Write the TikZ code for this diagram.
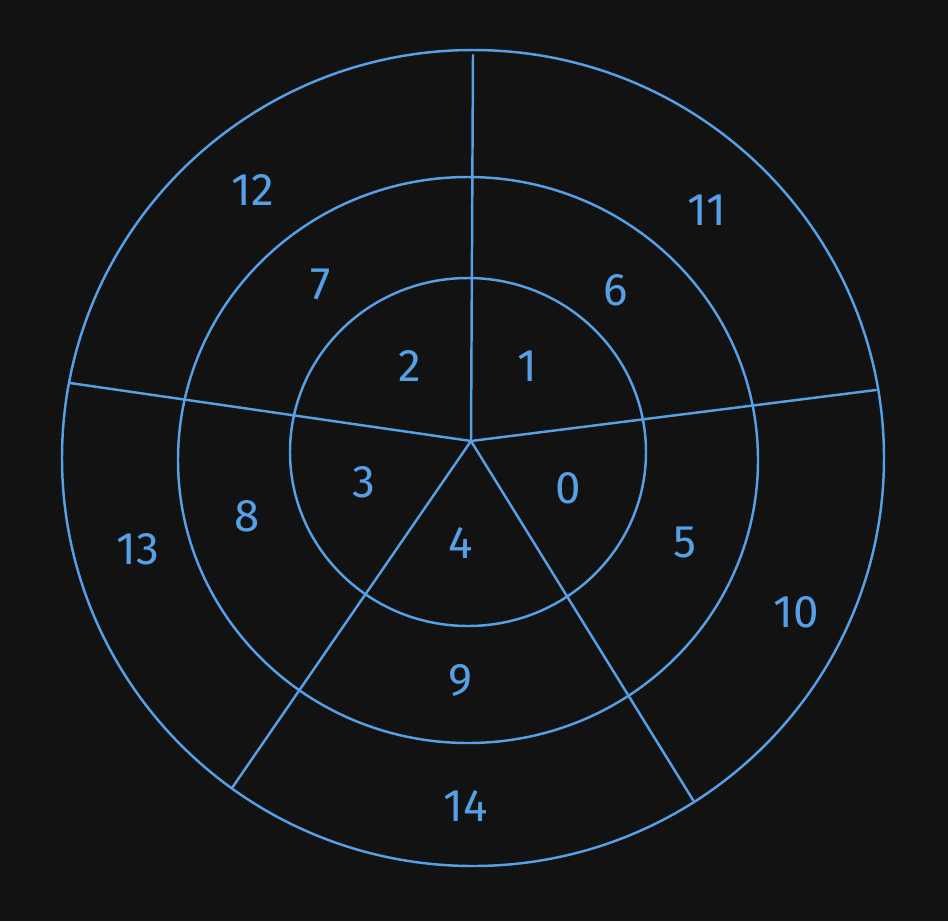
\documentclass[tikz,border=0pt]{standalone}
\usepackage{fontspec}
\setmainfont{Fira Sans}
\usetikzlibrary{positioning,calc}
\definecolor{NightBg}{RGB}{18,18,18}
\definecolor{RingBlue}{RGB}{86,160,230}
\tikzset{
  ring/.style={draw=RingBlue,line width=1.4pt},
  spoke/.style={draw=RingBlue,line width=1.4pt,line cap=round},
  cell/.style={text=RingBlue,font=\fontsize{26}{28}\selectfont,inner sep=0pt}
}

\begin{document}
\begin{tikzpicture}[x=0.02cm,y=-0.02cm]
  \fill[NightBg] (0,0) rectangle (948,921);
  \useasboundingbox (0,0) rectangle (948,921);

  % rings
  \draw[ring] (468,452) ellipse [x radius=178,y radius=174];
  \draw[ring] (468,460) ellipse [x radius=290,y radius=283];
  \draw[ring] (473,458) ellipse [x radius=411,y radius=408];

  % spokes
  \coordinate (hub) at (471,441);
  \coordinate (tipN) at (473,55);
  \coordinate (tipE) at (876,390);
  \coordinate (tipSE) at (693,800);
  \coordinate (tipSW) at (232,788);
  \coordinate (tipW) at (70,383);
  \foreach \t in {tipN,tipE,tipSE,tipSW,tipW}
    \draw[spoke] (hub) -- (\t);

  % cell numbers
  \node[cell] (c0) at (568,488) {0};
  \node[cell] (c1) at (527,366) {1};
  \node[cell] (c2) at (410,366) {2};
  \node[cell] (c3) at (364,482) {3};
  \node[cell] (c4) at (461,543) {4};
  \node[cell] (c5) at (685,542) {5};
  \node[cell] (c6) at (616,290) {6};
  \node[cell] (c7) at (321,284) {7};
  \node[cell] (c8) at (247,516) {8};
  \node[cell] (c9) at (460,680) {9};
  \node[cell] (c10) at (796,612) {10};
  \node[cell] (c11) at (707,210) {11};
  \node[cell] (c12) at (253,190) {12};
  \node[cell] (c13) at (138,549) {13};
  \node[cell] (c14) at (466,806) {14};
\end{tikzpicture}
\end{document}
